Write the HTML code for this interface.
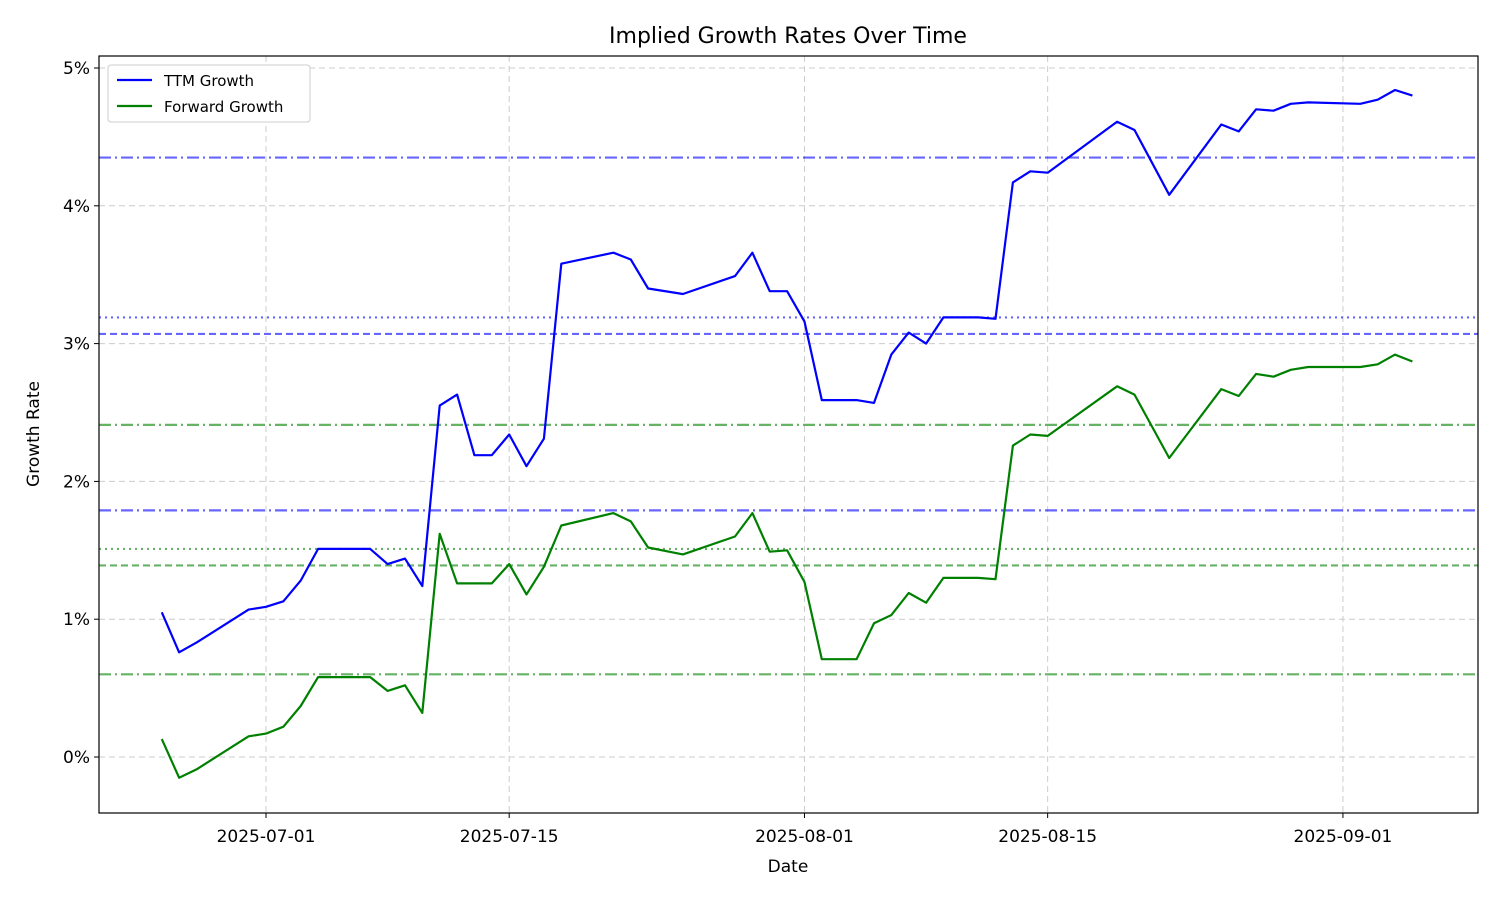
<!DOCTYPE html>
<html><head><meta charset="utf-8">
<style>
body{margin:0;background:#fff;font-family:"Liberation Sans","DejaVu Sans",sans-serif;}
svg text{font-family:"DejaVu Sans","Liberation Sans",sans-serif;}
</style></head>
<body>
<svg id="chart" width="1500" height="900" xmlns="http://www.w3.org/2000/svg">
<rect width="1500" height="900" fill="#fff"/>
<text x="788" y="43" font-size="22" text-anchor="middle" fill="#000">Implied Growth Rates Over Time</text>
<text x="788" y="872" font-size="17" text-anchor="middle">Date</text>
<text x="39" y="434" font-size="17" text-anchor="middle" transform="rotate(-90 39 434)">Growth Rate</text>
<g id="grid"></g><g id="hlines"></g><g id="series"></g><g id="axes"></g>
<rect x="99" y="56" width="1379" height="757" fill="none" stroke="#000" stroke-width="1.2"/>
<g>
<rect x="108" y="65" width="202" height="57" rx="3" fill="#fff" stroke="#ccc"/>
<line x1="117" y1="80" x2="152" y2="80" stroke="#0000ff" stroke-width="2.2"/>
<text x="164" y="86" font-size="15">TTM Growth</text>
<line x1="117" y1="106" x2="152" y2="106" stroke="#008000" stroke-width="2.2"/>
<text x="164" y="112" font-size="15">Forward Growth</text>
</g>
</svg>
<script>
const days=[-6,-5,-4,-1,0,1,2,3,6,7,8,9,10,11,12,13,14,15,16,17,20,21,22,24,27,28,29,30,31,32,34,35,36,37,38,39,41,42,43,44,45,49,50,52,55,56,57,58,59,60,63,64,65,66];
const ttm=[1.05,0.76,0.83,1.07,1.09,1.13,1.28,1.51,1.51,1.40,1.44,1.24,2.55,2.63,2.19,2.19,2.34,2.11,2.31,3.58,3.66,3.61,3.40,3.36,3.49,3.66,3.38,3.38,3.16,2.59,2.59,2.57,2.92,3.08,3.00,3.19,3.19,3.18,4.17,4.25,4.24,4.61,4.55,4.08,4.59,4.54,4.70,4.69,4.74,4.75,4.74,4.77,4.84,4.80];
const fwd=[0.13,-0.15,-0.09,0.15,0.17,0.22,0.37,0.58,0.58,0.48,0.52,0.32,1.62,1.26,1.26,1.26,1.40,1.18,1.38,1.68,1.77,1.71,1.52,1.47,1.60,1.77,1.49,1.50,1.27,0.71,0.71,0.97,1.03,1.19,1.12,1.30,1.30,1.29,2.26,2.34,2.33,2.69,2.63,2.17,2.67,2.62,2.78,2.76,2.81,2.83,2.83,2.85,2.92,2.87];
const ttmRefs=[4.35,3.19,3.07,1.79];
const fwdRefs=[2.41,1.51,1.39,0.60];
const refStyles=["12,4,2,4","2,4","7,4","12,4,2,4"];
const yTicks=[0,1,2,3,4,5];
const xTickDays=[0,14,31,45,62];
const xTickLabels=["2025-07-01","2025-07-15","2025-08-01","2025-08-15","2025-09-01"];
const NS="http://www.w3.org/2000/svg";
const X=d=>266+d*17.37, Y=v=>757-v*137.8;
function mk(p,t,a){const e=document.createElementNS(NS,t);for(const k in a)e.setAttribute(k,a[k]);document.getElementById(p).appendChild(e);return e;}
yTicks.forEach(v=>{
 const g=mk('grid','line',{x1:99,x2:1478,y1:Y(v),y2:Y(v),stroke:'#ccc','stroke-dasharray':'6,4','stroke-width':1});
 
 
 mk('axes','line',{x1:94,x2:99,y1:Y(v),y2:Y(v),stroke:'#000'});
 const t=mk('axes','text',{x:90,y:Y(v)+6,'font-size':17,'text-anchor':'end'});t.textContent=v+'%';
 
 
});
xTickDays.forEach((d,i)=>{
 const g=mk('grid','line',{x1:X(d),x2:X(d),y1:56,y2:813,stroke:'#ccc','stroke-dasharray':'6,4','stroke-width':1});
 
 
 mk('axes','line',{x1:X(d),x2:X(d),y1:813,y2:818,stroke:'#000'});
 const t=mk('axes','text',{x:X(d),y:842,'font-size':17,'text-anchor':'middle'});t.textContent=xTickLabels[i];
 
 
});
ttmRefs.forEach((v,i)=>{
 const l=mk('hlines','line',{x1:99,x2:1478,y1:Y(v),y2:Y(v),stroke:'#0000ff','stroke-opacity':0.6,'stroke-width':2.2,'stroke-dasharray':refStyles[i]});
 
 
});
fwdRefs.forEach((v,i)=>{
 const l=mk('hlines','line',{x1:99,x2:1478,y1:Y(v),y2:Y(v),stroke:'#008000','stroke-opacity':0.6,'stroke-width':2.2,'stroke-dasharray':refStyles[i]});
 
 
});
const pts=a=>a.map((v,i)=>X(days[i]).toFixed(1)+','+Y(v).toFixed(1)).join(' ');
const l1=mk('series','polyline',{points:pts(ttm),fill:'none',stroke:'#0000ff','stroke-width':2.2,'stroke-linejoin':'round'});


const l2=mk('series','polyline',{points:pts(fwd),fill:'none',stroke:'#008000','stroke-width':2.2,'stroke-linejoin':'round'});


</script>
</body></html>
